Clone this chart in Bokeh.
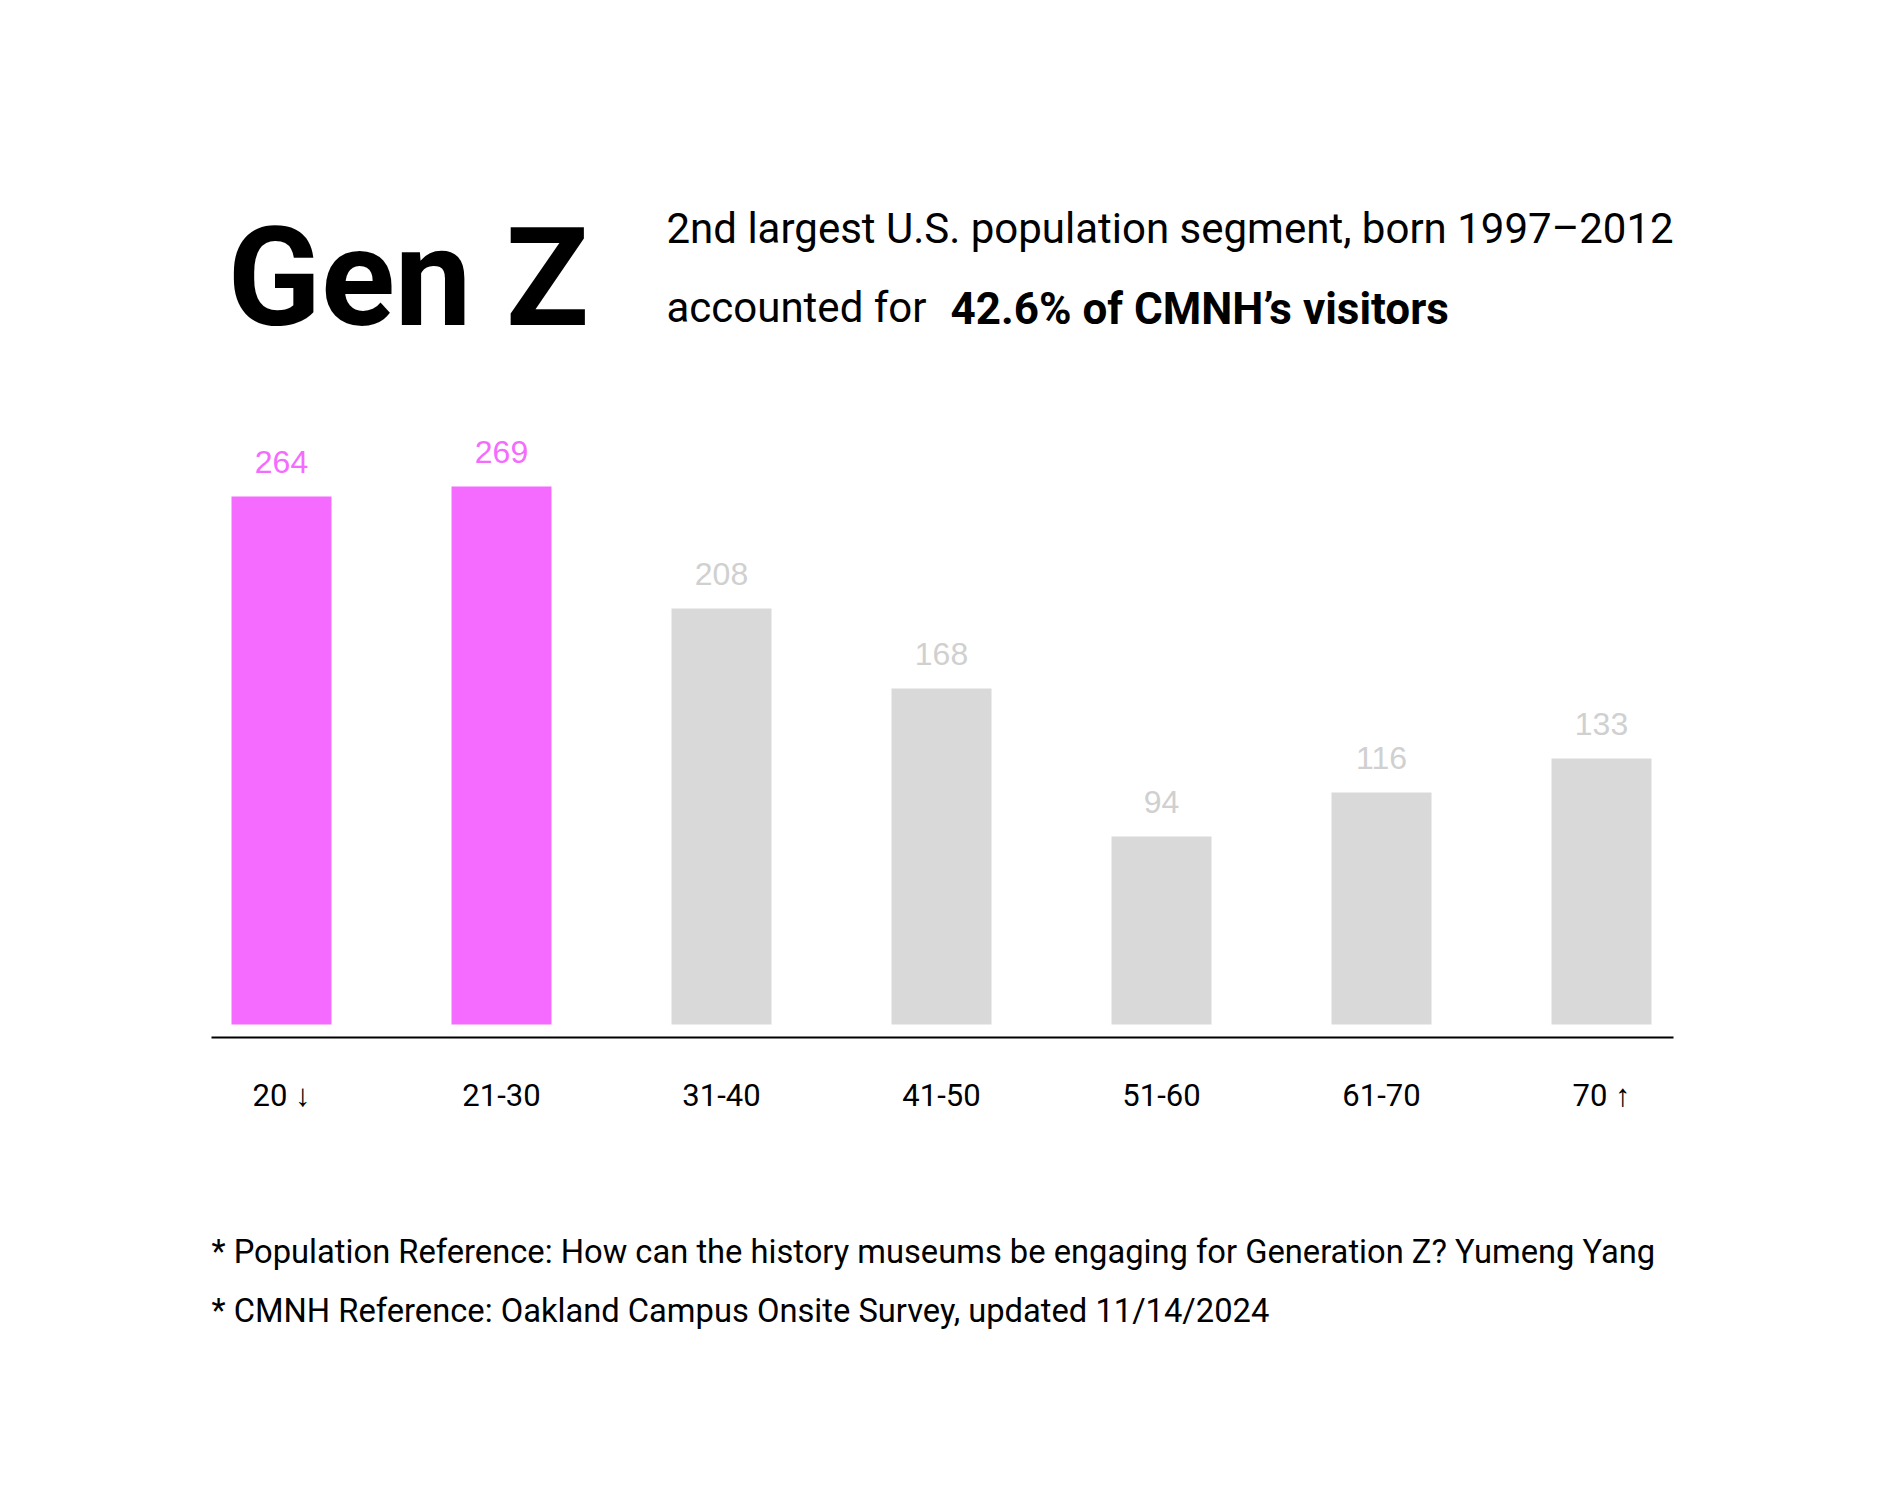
from bokeh.plotting import figure
from bokeh.models import Range1d, FixedTicker, Label, ColumnDataSource
from bokeh.embed import file_html
from bokeh.resources import INLINE
from bokeh.core.properties import value

# ---- data ----
categories = ["20 ↓", "21-30", "31-40", "41-50", "51-60", "61-70", "70 ↑"]
visitors = [264, 269, 208, 168, 94, 116, 133]
is_gen_z = [True, True, False, False, False, False, False]

title_big = "Gen Z"
subtitle_1 = "2nd largest U.S. population segment, born 1997–2012"
subtitle_2a = "accounted for "
subtitle_2b = "42.6% of CMNH’s visitors"
note_1 = "* Population Reference: How can the history museums be engaging for Generation Z? Yumeng Yang"
note_2 = "* CMNH Reference: Oakland Campus Onsite Survey, updated 11/14/2024"

# ---- styles / layout ----
PINK = "#F66BFF"
GRAY = "#D9D9D9"
GRAY_TXT = "#D0D0D0"
BODY_FONT = "Roboto"
W, H = 1874, 1484
BOTTOM_BORDER = 120
FRAME_H = H - BOTTOM_BORDER
PX_PER_CAT = 220.0        # pixels per category step
FIRST_CENTER_PX = 281.0   # pixel x of the first bar centre
PX_PER_UNIT = 2.0         # pixels per visitor
ZERO_PX = 1024.0          # pixel y of the zero line

x_start = -FIRST_CENTER_PX / PX_PER_CAT
x_end = x_start + W / PX_PER_CAT
y_end = ZERO_PX / PX_PER_UNIT
y_start = -(FRAME_H - ZERO_PX) / PX_PER_UNIT


def dx(px):
    return x_start + px / PX_PER_CAT


def dy(py):
    return (ZERO_PX - py) / PX_PER_UNIT


x_pos = list(range(len(categories)))
src = ColumnDataSource(dict(
    x=x_pos,
    top=visitors,
    label=[str(v) for v in visitors],
    fill=[PINK if g else GRAY for g in is_gen_z],
    tcol=[PINK if g else GRAY_TXT for g in is_gen_z],
))

p = figure(width=W, height=H, output_backend="svg", toolbar_location=None,
           x_range=Range1d(x_start, x_end), y_range=Range1d(y_start, y_end),
           y_axis_type=None,
           min_border_left=0, min_border_right=0, min_border_top=0,
           min_border_bottom=BOTTOM_BORDER)

p.vbar(x="x", top="top", bottom=0, width=0.4545, fill_color="fill",
       line_color=None, source=src)
p.text(x="x", y="top", text="label", text_color="tcol",
       text_font=value("Liberation Sans"), text_font_size="32px",
       text_align="center", text_baseline="alphabetic", y_offset=-35, source=src)

ax = p.xaxis[0]
ax.fixed_location = dy(1037)
ax.bounds = (dx(211), dx(1673))
ax.ticker = FixedTicker(ticks=x_pos)
ax.major_label_overrides = {i: c for i, c in enumerate(categories)}
ax.axis_line_width = 2
ax.axis_line_color = "#000000"
ax.major_tick_line_color = None
ax.minor_tick_line_color = None
ax.major_label_text_font = BODY_FONT
ax.major_label_text_font_size = "31px"
ax.major_label_text_color = "#000000"
ax.major_label_standoff = 33
p.grid.visible = False
p.outline_line_color = None
p.background_fill_color = "white"
p.border_fill_color = "white"


def add_label(text, px, py, font, size, bold=False, color="#000000"):
    p.add_layout(Label(x=dx(px), y=dy(py), text=text, text_font=font,
                       text_font_size=size,
                       text_font_style="bold" if bold else "normal",
                       text_color=color, text_align="left", text_baseline="alphabetic"))


add_label(title_big, 227, 277, "Roboto", "137px", bold=True)
add_label(subtitle_1, 666, 228, BODY_FONT, "42px")
add_label(subtitle_2a, 666, 307, BODY_FONT, "42px")
add_label(subtitle_2b, 950, 308, BODY_FONT, "44px", bold=True)
add_label(note_1, 211, 1251, BODY_FONT, "32.7px")
add_label(note_2, 211, 1310, BODY_FONT, "32.7px")

open("out.html", "w").write(file_html(p, INLINE))
